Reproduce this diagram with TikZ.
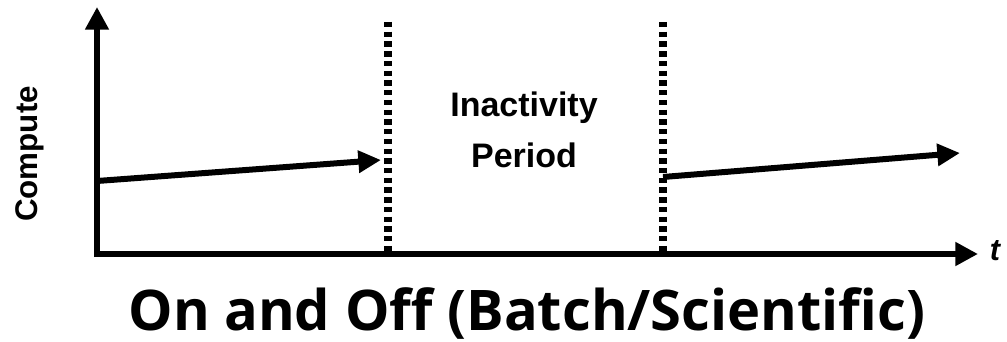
\documentclass[tikz,border=0pt]{standalone}
\usepackage{fontspec}
\setmainfont{Liberation Sans}
\newfontfamily\titlefont{Open Sans}
\usetikzlibrary{arrows.meta}
\tikzset{
  axis/.style={line width=4.5pt, -{Triangle[length=17pt,width=17pt]}},
  trend/.style={line width=4.5pt, -{Triangle[length=17pt,width=16pt]}},
  divider/.style={line width=5.3pt, dash pattern=on 4pt off 3.3pt},
  lbl/.style={inner sep=0pt, font=\bfseries}
}
\begin{document}
\begin{tikzpicture}[x=0.75pt, y=-0.75pt]
  \useasboundingbox (0,0) rectangle (1007,342);
  % axes
  \coordinate (o) at (97,254);
  \coordinate (ytop) at (97,7);
  \coordinate (xend) at (978,254);
  \draw[axis] (97,257) -- (ytop);
  \draw[axis] (94,254) -- (xend);
  % inactivity boundaries
  \coordinate (d1t) at (388,22);
  \coordinate (d1b) at (388,252);
  \coordinate (d2t) at (663,22);
  \coordinate (d2b) at (663,252);
  \draw[divider] (d1t) -- (d1b);
  \draw[divider] (d2t) -- (d2b);
  % compute trends
  \coordinate (a1s) at (97,181);
  \coordinate (a1e) at (381,160);
  \coordinate (a2s) at (663,177);
  \coordinate (a2e) at (960,153);
  \draw[trend] (a1s) -- (a1e);
  \draw[trend] (a2s) -- (a2e);
  % labels
  \node[lbl, rotate=90, font=\bfseries\fontsize{23.5}{28}\selectfont] (ylab) at (30,154) {Compute};
  \node[lbl, anchor=base, font=\bfseries\itshape\fontsize{23}{27}\selectfont] (xlab) at (995,260) {t};
  \node[lbl, anchor=north, align=center, font=\bfseries\fontsize{25.5}{38}\selectfont] (gap) at (524,92) {Inactivity\\Period};
  \node[inner sep=0pt, anchor=base, font=\titlefont\bfseries\fontsize{42}{50}\selectfont] (title) at (527,330) {On and Off (Batch/Scientific)};
\end{tikzpicture}
\end{document}
